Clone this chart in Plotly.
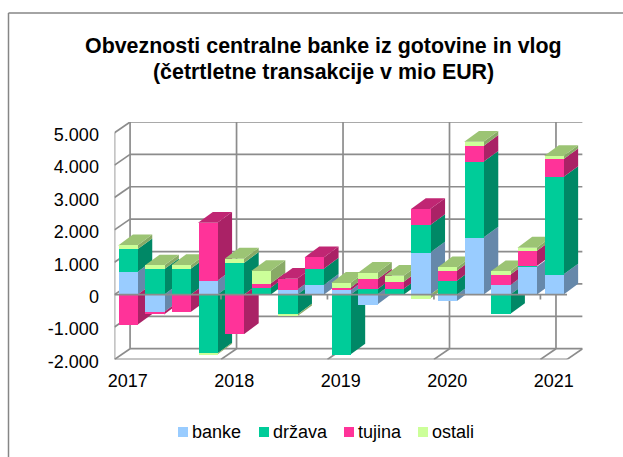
import plotly.graph_objects as go

W, H = 623, 457

quarters = ["2017Q1","2017Q2","2017Q3","2017Q4","2018Q1","2018Q2","2018Q3","2018Q4","2019Q1",
            "2019Q2","2019Q3","2019Q4","2020Q1","2020Q2","2020Q3","2020Q4","2021Q1"]
banke  = [0.70,-0.54,0.00,0.43,0.00,0.00,0.15,0.30,0.13,-0.31,0.00,1.30,-0.20,1.76,0.29,0.86,0.62]
drzava = [0.70,0.78,0.80,-1.82,0.98,0.21,-0.62,0.50,-1.85,0.16,0.18,0.85,0.43,2.34,-0.60,0.02,3.01]
tujina = [-0.93,-0.07,-0.54,1.79,-1.22,0.13,0.34,0.35,0.08,0.31,0.22,0.49,0.31,0.49,0.32,0.47,0.55]
ostali = [0.12,0.12,0.11,-0.03,0.13,0.39,-0.05,0.00,0.15,0.20,0.18,-0.12,0.10,0.13,0.11,0.10,0.10]
series_names = ["banke", "država", "tujina", "ostali"]
series_values = [banke, drzava, tujina, ostali]
front_colors = ["#99CCFF", "#00CC99", "#FF3399", "#CCFF99"]
side_colors  = ["#6688AA", "#008866", "#AA2266", "#88AA66"]
top_colors   = ["#7A9FCC", "#00A37A", "#C02673", "#9CC474"]
y_ticks = [-2000,-1000,0,1000,2000,3000,4000,5000]
y_labels = ["-2.000","-1.000","0","1.000","2.000","3.000","4.000","5.000"]
year_idx = [0,4,8,12,16]
year_labels = ["2017","2018","2019","2020","2021"]
sep_idx = [3.5,7.5,11.5,15.5]

FONT = "Liberation Sans"
GRID = "#8C8C8C"
BW = 0.725
WALL_DX, WALL_DY = 0.585, 330
BAR_DX, BAR_DY = 0.555, 335
XMIN, XMAX = -0.5, 16.5
YMIN, YMAX = -2000, 5000
x_range = [XMIN, XMAX + WALL_DX]
y_range = [YMIN, YMAX + WALL_DY]

fig = go.Figure()

# walls and floor
gx, gy = [], []
def seg(x0, y0, x1, y1):
    gx.extend([x0, x1, None]); gy.extend([y0, y1, None])
for t in y_ticks:
    seg(XMIN + WALL_DX, t + WALL_DY, XMAX + WALL_DX, t + WALL_DY)
    seg(XMIN, t, XMIN + WALL_DX, t + WALL_DY)
seg(XMIN, YMIN, XMIN, YMAX)
seg(XMIN + WALL_DX, YMIN + WALL_DY, XMIN + WALL_DX, YMAX + WALL_DY)
seg(XMIN, YMIN, XMAX, YMIN)
seg(XMAX, YMIN, XMAX + WALL_DX, YMIN + WALL_DY)
for s in sep_idx:
    seg(s + WALL_DX, YMIN + WALL_DY, s + WALL_DX, YMAX + WALL_DY)
    seg(s, YMIN, s + WALL_DX, YMIN + WALL_DY)
fig.add_trace(go.Scatter(x=gx, y=gy, mode="lines", line=dict(color=GRID, width=1.7),
                         hoverinfo="skip", showlegend=False, xaxis="x", yaxis="y"))

# depth faces, drawn left to right
def poly(xs, ys, c):
    fig.add_trace(go.Scatter(x=xs, y=ys, mode="lines", fill="toself", fillcolor=c,
                             line=dict(width=0), hoverinfo="skip", showlegend=False,
                             xaxis="x", yaxis="y"))
for i in range(len(quarters)):
    x0, x1 = i - BW/2, i + BW/2
    pos = 0.0; neg = 0.0; top_col = None
    for k, vals in enumerate(series_values):
        v = vals[i] * 1000
        if v == 0:
            continue
        if v > 0:
            a, b = pos, pos + v; pos = b; top_col = k
        else:
            a, b = neg + v, neg; neg = a
        poly([x1, x1 + BAR_DX, x1 + BAR_DX, x1, x1],
             [a, a + BAR_DY, b + BAR_DY, b, a], side_colors[k])
    if top_col is not None:
        poly([x0, x1, x1 + BAR_DX, x0 + BAR_DX, x0],
             [pos, pos, pos + BAR_DY, pos + BAR_DY, pos], top_colors[top_col])

# front faces
for name, vals, c in zip(series_names, series_values, front_colors):
    fig.add_trace(go.Bar(x=list(range(len(quarters))), y=[v*1000 for v in vals], name=name,
                         width=BW, marker=dict(color=c, line=dict(width=0)),
                         customdata=quarters, hovertemplate="%{customdata}: %{y}<extra>"+name+"</extra>",
                         showlegend=False, xaxis="x2", yaxis="y2"))

# zero axis line with tick marks
zx, zy = [XMIN, XMAX, None], [0, 0, None]
for s in sep_idx:
    zx += [s, s, None]; zy += [0, -150, None]
fig.add_trace(go.Scatter(x=zx, y=zy, mode="lines", line=dict(color=GRID, width=1.7),
                         hoverinfo="skip", showlegend=False, xaxis="x2", yaxis="y2"))

dom_x = [114.5/W, 582.6/W]
dom_y = [1 - 359.4/H, 1 - 122.0/H]
shapes = [
    dict(type="line", xref="paper", yref="paper", x0=8.5/W, y0=0, x1=8.5/W, y1=1-13/H,
         line=dict(color="#868686", width=1.5)),
    dict(type="line", xref="paper", yref="paper", x0=8.5/W, y0=1-13/H, x1=1, y1=1-13/H,
         line=dict(color="#868686", width=1.5)),
]
legend_pos = [(178, 192), (259, 272.5), (344, 358), (418, 432)]
annotations = [
    dict(text="<b>Obveznosti centralne banke iz gotovine in vlog</b>", xref="paper", yref="paper",
         x=323/W, y=1-46/H, showarrow=False, font=dict(family=FONT, size=21.4, color="#000000"),
         xanchor="center", yanchor="middle"),
    dict(text="<b>(četrtletne transakcije v mio EUR)</b>", xref="paper", yref="paper",
         x=323/W, y=1-72/H, showarrow=False, font=dict(family=FONT, size=21.4, color="#000000"),
         xanchor="center", yanchor="middle"),
]
for (sx, tx), name, c in zip(legend_pos, series_names, front_colors):
    shapes.append(dict(type="rect", xref="paper", yref="paper", x0=sx/W, x1=(sx+10)/W,
                       y0=1-437/H, y1=1-427/H, fillcolor=c, line=dict(width=0)))
    annotations.append(dict(text=name, xref="paper", yref="paper", x=tx/W, y=1-431.5/H,
                            showarrow=False, xanchor="left", yanchor="middle", borderpad=0, borderwidth=0,
                            font=dict(family=FONT, size=18, color="#000000")))

fig.update_layout(
    width=W, height=H, margin=dict(l=0, r=0, t=0, b=0),
    paper_bgcolor="white", plot_bgcolor="white", barmode="relative", bargap=0,
    showlegend=False, shapes=shapes, annotations=annotations,
    xaxis=dict(domain=dom_x, range=x_range, showgrid=False, zeroline=False, showline=False, automargin=False,
               tickmode="array", tickvals=year_idx, ticktext=year_labels,
               ticks="outside", ticklen=5, tickcolor="rgba(0,0,0,0)",
               tickfont=dict(family=FONT, size=18, color="#000000")),
    yaxis=dict(domain=dom_y, range=y_range, showgrid=False, zeroline=False, showline=False, automargin=False,
               tickmode="array", tickvals=y_ticks, ticktext=y_labels,
               ticks="outside", ticklen=11, tickcolor="rgba(0,0,0,0)", ticklabelshift=2,
               tickfont=dict(family=FONT, size=18, color="#000000")),
    xaxis2=dict(domain=dom_x, range=x_range, overlaying="x", visible=False, anchor="y2", automargin=False),
    yaxis2=dict(domain=dom_y, range=y_range, overlaying="y", visible=False, anchor="x2", automargin=False),
)
fig.write_html("out.html", config={"displayModeBar": False},
               post_script="document.body.style.margin='0';document.documentElement.style.overflow='hidden';")
